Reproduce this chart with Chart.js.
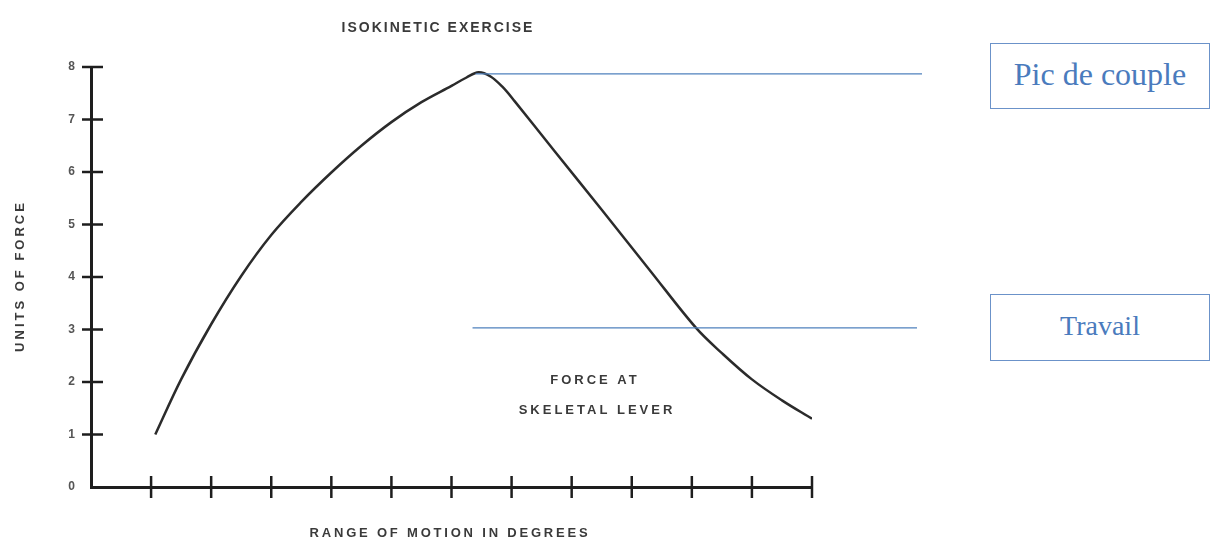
<!DOCTYPE html>
<html><head><meta charset="utf-8">
<script src="https://cdn.jsdelivr.net/npm/chart.js@4.4.1/dist/chart.umd.min.js"></script>
<style>
html,body{margin:0;padding:0;background:#fff;}
#wrap{position:relative;width:1214px;height:544px;overflow:hidden;}
canvas{position:absolute;left:0;top:0;}
.box{position:absolute;left:990px;width:220px;border:1px solid #6b92c9;box-sizing:border-box;font-family:"Liberation Serif","Times New Roman",serif;color:#4a7bbd;display:flex;align-items:center;justify-content:center;background:#fff;}
</style></head>
<body><div id="wrap"><canvas id="c" width="1214" height="544"></canvas>
<div class="box" id="b0" style="top:43px;height:66px;font-size:32px;padding-bottom:3px;"></div>
<div class="box" id="b1" style="top:294px;height:67px;font-size:28px;padding-bottom:4px;"></div></div>
<script>
const chartTitle = 'ISOKINETIC EXERCISE';
const xAxisTitle = 'RANGE OF MOTION IN DEGREES';
const yAxisTitle = 'UNITS OF FORCE';
const curveLabel = ['FORCE AT', 'SKELETAL LEVER'];
const rangeOfMotion = [1.07, 1.5, 2.0, 2.5, 3.0, 3.5, 4.0, 4.5, 5.0, 5.5, 6.0, 6.25, 6.45, 6.65, 6.85, 7.05, 7.7, 8.5, 9.3, 10.07, 10.5, 11.0, 11.5, 12.0];
const unitsOfForce  = [1.0, 2.05, 3.1, 4.02, 4.8, 5.43, 5.99, 6.5, 6.95, 7.33, 7.64, 7.8, 7.9, 7.82, 7.62, 7.35, 6.42, 5.28, 4.13, 3.03, 2.55, 2.05, 1.65, 1.3];
const yTickLabels = ['0', '1', '2', '3', '4', '5', '6', '7', '8'];
const xTickValues = [1, 2, 3, 4, 5, 6, 7, 8, 9, 10, 11, 12];
const annotationLabels = ['Pic de couple', 'Travail'];
const annotationForce = [7.87, 3.03];
const annotationStart = [6.4, 6.35];

document.getElementById('b0').textContent = annotationLabels[0];
document.getElementById('b1').textContent = annotationLabels[1];

const lineEnds = [922, 917];

const extras = {
  id: 'extras',
  afterDraw(chart) {
    const {ctx, chartArea: a, scales: {x, y}} = chart;
    ctx.save();
    ctx.strokeStyle = '#1e1e1e';
    ctx.lineWidth = 2.5;
    yTickLabels.forEach((t, i) => {
      if (i === 0) return;
      const py = y.getPixelForValue(Number(t));
      ctx.beginPath(); ctx.moveTo(a.left - 9, py); ctx.lineTo(a.left + 12, py); ctx.stroke();
    });
    xTickValues.forEach(v => {
      const px = x.getPixelForValue(v);
      ctx.beginPath(); ctx.moveTo(px, a.bottom - 11); ctx.lineTo(px, a.bottom + 11); ctx.stroke();
    });
    ctx.strokeStyle = '#4f81bd';
    ctx.lineWidth = 1.2;
    annotationForce.forEach((f, i) => {
      const py = y.getPixelForValue(f);
      ctx.beginPath(); ctx.moveTo(x.getPixelForValue(annotationStart[i]), py); ctx.lineTo(lineEnds[i], py); ctx.stroke();
    });
    ctx.fillStyle = '#3a3a3a';
    ctx.textAlign = 'center';
    ctx.textBaseline = 'middle';
    ctx.letterSpacing = '2px';
    ctx.font = 'bold 14px "Liberation Sans"';
    ctx.fillText(chartTitle, 438, 28);
    ctx.font = 'bold 13px "Liberation Sans"';
    ctx.letterSpacing = '2.8px';
    ctx.fillText(xAxisTitle, 450, 533);
    ctx.letterSpacing = '3px';
    ctx.fillText(curveLabel[0], 595, 380);
    ctx.fillText(curveLabel[1], 597, 410);
    ctx.save();
    ctx.translate(20, 276);
    ctx.rotate(-Math.PI / 2);
    ctx.fillText(yAxisTitle, 0, 0);
    ctx.restore();
    ctx.restore();
  }
};

new Chart(document.getElementById('c'), {
  type: 'scatter',
  data: {
    datasets: [{
      data: rangeOfMotion.map((v, i) => ({x: v, y: unitsOfForce[i]})),
      showLine: true,
      borderColor: '#2b2b2b',
      borderWidth: 2.5,
      pointRadius: 0,
      tension: 0.35,
      fill: false
    }]
  },
  options: {
    responsive: false,
    animation: false,
    events: [],
    layout: {padding: {top: 67, right: 402, bottom: 0, left: 0}},
    plugins: {legend: {display: false}, tooltip: {enabled: false}, title: {display: false}},
    scales: {
      x: {
        type: 'linear', min: 0, max: 12,
        ticks: {display: false, stepSize: 1},
        grid: {display: true, drawOnChartArea: false, drawTicks: false},
        border: {display: true, color: '#1e1e1e', width: 3},
        afterFit(s) { s.height = 57; }
      },
      y: {
        min: 0, max: 8,
        ticks: {stepSize: 1, padding: 16, color: '#555',
          font: {family: 'Liberation Sans', size: 12, weight: 'bold'},
          callback: (v) => yTickLabels[v]},
        grid: {display: true, drawOnChartArea: false, drawTicks: false},
        border: {display: true, color: '#1e1e1e', width: 3},
        afterFit(s) { s.width = 91; }
      }
    }
  },
  plugins: [extras]
});
</script>
</body></html>
